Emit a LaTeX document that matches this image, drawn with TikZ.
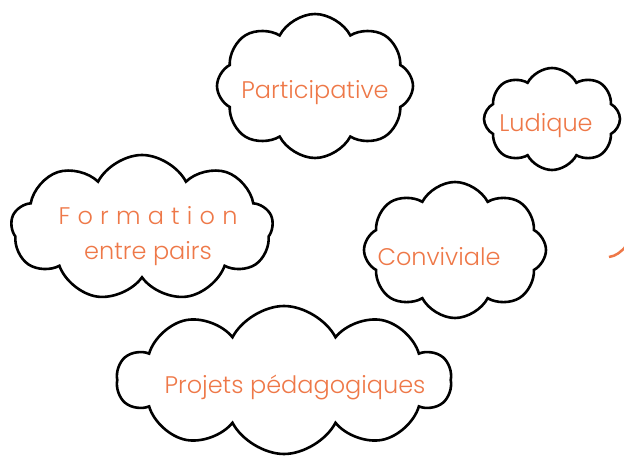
\documentclass[tikz,border=0pt]{standalone}
\usepackage{fontspec}
\setmainfont{Poppins}[UprightFont=* Light]
\usetikzlibrary{shapes.symbols}
\definecolor{orangetext}{RGB}{238,120,72}

\begin{document}
\begin{tikzpicture}[x=1pt,y=-1pt,
                    cloud node/.style={cloud,draw,line width=2.6pt,cloud puff arc=125,inner sep=0pt},
                    word node/.style={text=orangetext,font=\fontsize{24}{28}\selectfont,align=center}]
  \useasboundingbox (0,0) rectangle (624,457);

  % clouds
  \node[cloud node,cloud puffs=8,minimum width=196pt,minimum height=144pt] (1) at (315,86) {};
  \node[cloud node,cloud puffs=8,minimum width=136pt,minimum height=102pt] (2) at (552,119) {};
  \node[cloud node,cloud puffs=9,minimum width=262pt,minimum height=146pt] (3) at (142,228) {};
  \node[cloud node,cloud puffs=8,minimum width=182pt,minimum height=136pt] (4) at (455,250) {};
  \node[cloud node,cloud puffs=10,minimum width=334pt,minimum height=148pt] (5) at (284,380) {};

  % texts
  \node[word node] (p) at (315,93) {Participative};
  \node[word node] (l) at (546,126) {Ludique};
  \node[word node] (f) at (148,236) {{\addfontfeature{LetterSpace=30}Formation}\\[7pt]entre pairs};
  \node[word node] (c) at (439,257) {Conviviale};
  \node[word node] (j) at (295,387) {Projets pédagogiques};

  % cut-off arc at the right edge
  \draw[orangetext,line width=2.5pt] (609,257) .. controls (616,256) and (621,252) .. (626,246);
\end{tikzpicture}
\end{document}
